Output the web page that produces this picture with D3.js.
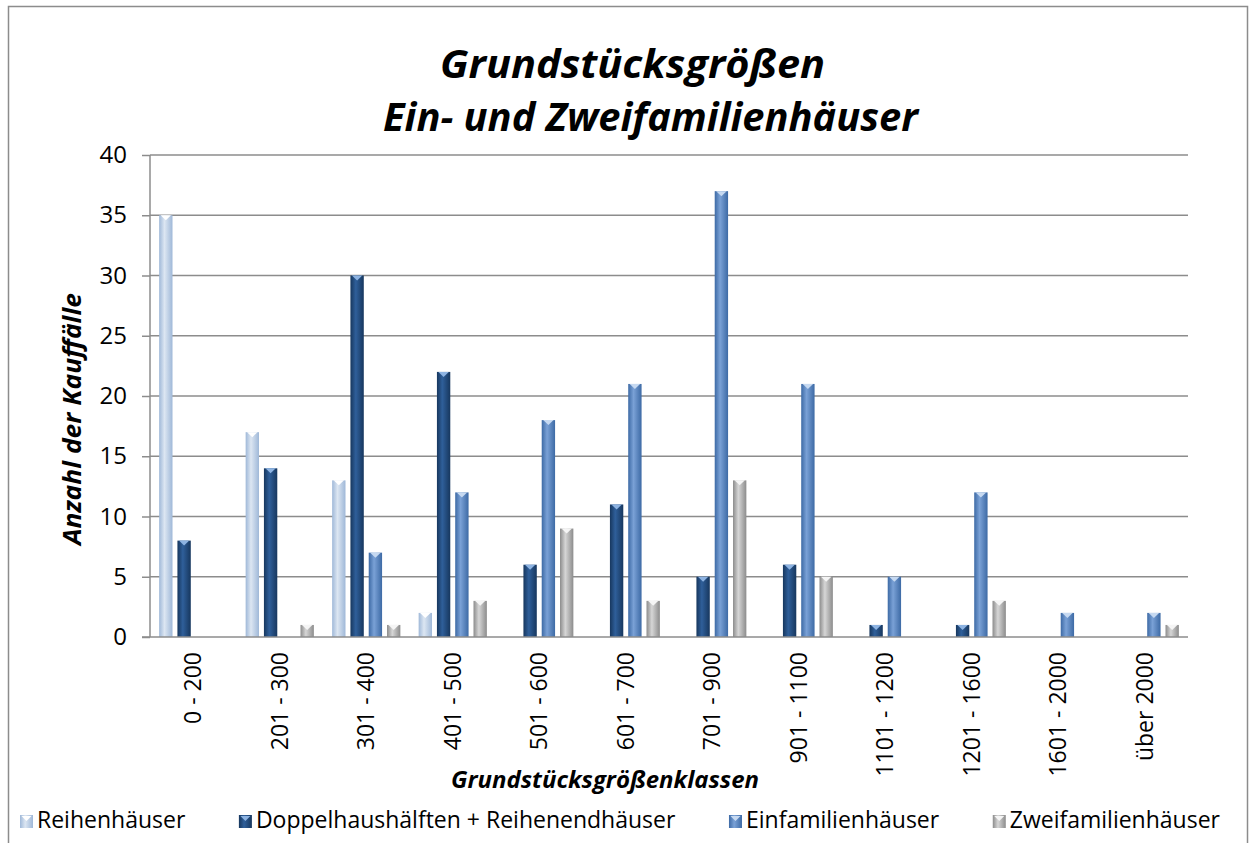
<!DOCTYPE html>
<html>
<head>
<meta charset="utf-8">
<script src="https://cdn.jsdelivr.net/npm/d3@7"></script>
<style>
  body { margin: 0; background: #fff; }
  text { font-family: 'Open Sans', sans-serif; fill: #000; }
</style>
</head>
<body>
<div id="chart"></div>
<script>
// categories (Grundstücksgrößenklassen)
const categories = ['0 - 200', '201 - 300', '301 - 400', '401 - 500', '501 - 600', '601 - 700',
  '701 - 900', '901 - 1100', '1101 - 1200', '1201 - 1600', '1601 - 2000', 'über 2000'];

const seriesNames = ['Reihenhäuser', 'Doppelhaushälften + Reihenendhäuser', 'Einfamilienhäuser', 'Zweifamilienhäuser'];

const reihen = [35, 17, 13, 2, 0, 0, 0, 0, 0, 0, 0, 0];
const doppel = [8, 14, 30, 22, 6, 11, 5, 6, 1, 1, 0, 0];
const einfam = [0, 0, 7, 12, 18, 21, 37, 21, 5, 12, 2, 2];
const zweifam = [0, 1, 1, 3, 9, 3, 13, 5, 0, 3, 0, 1];

const yTicks = [0, 5, 10, 15, 20, 25, 30, 35, 40];

const width = 1255, height = 843;
const plot = {left: 150, right: 1188, top: 155, bottom: 637};

// colours per series: edge, middle, cap
const styles = [
  {edge: '#9fb8d8', mid: '#dce6f2', cap: '#ffffff'},
  {edge: '#17375e', mid: '#2f5f9a', cap: '#8db3e2'},
  {edge: '#3d6aa5', mid: '#7aa1d6', cap: '#c6d9f1'},
  {edge: '#8c8c8c', mid: '#d6d6d6', cap: '#f5f5f5'}
];

const values = [reihen, doppel, einfam, zweifam];
const rows = [];
categories.forEach((c, i) => {
  values.forEach((v, s) => {
    if (v[i] > 0) rows.push({cat: c, s: s, value: v[i]});
  });
});

const svg = d3.select('#chart').append('svg')
  .attr('width', width)
  .attr('height', height);

const defs = svg.append('defs');
styles.forEach((st, i) => {
  const g = defs.append('linearGradient').attr('id', 'grad' + i)
    .attr('x1', 0).attr('x2', 1).attr('y1', 0).attr('y2', 0);
  g.append('stop').attr('offset', '0%').attr('stop-color', st.edge);
  g.append('stop').attr('offset', '40%').attr('stop-color', st.mid);
  g.append('stop').attr('offset', '100%').attr('stop-color', st.edge);
});

// chart frame
svg.append('rect')
  .attr('x', 8.5).attr('y', 6.5)
  .attr('width', 1239).attr('height', 860)
  .attr('fill', 'none')
  .attr('stroke', '#8c8c8c')
  .attr('stroke-width', 1.5);

const x0 = d3.scaleBand().domain(categories).range([plot.left, plot.right]);
const x1 = d3.scaleBand().domain(d3.range(4)).range([0, x0.bandwidth()])
  .paddingInner(0.27).paddingOuter(0.5);
const y = d3.scaleLinear().domain([0, 40]).range([plot.bottom, plot.top]);

// gridlines + y axis
const yAxis = svg.append('g')
  .attr('transform', 'translate(' + plot.left + ',0)')
  .call(d3.axisLeft(y).tickValues(yTicks).tickSize(8).tickPadding(15)
    .tickSizeOuter(0));
yAxis.select('.domain').remove();
yAxis.selectAll('.tick line').attr('stroke', '#8c8c8c').attr('stroke-width', 1.5);
yAxis.selectAll('.tick text').style('font-size', '24px').attr('fill', '#000');

svg.append('g').selectAll('line')
  .data(yTicks.filter(d => d > 0))
  .enter().append('line')
  .attr('x1', plot.left).attr('x2', plot.right)
  .attr('y1', d => y(d)).attr('y2', d => y(d))
  .attr('stroke', '#8c8c8c').attr('stroke-width', 1.5);

svg.append('line')
  .attr('x1', plot.left).attr('x2', plot.left)
  .attr('y1', plot.top).attr('y2', plot.bottom)
  .attr('stroke', '#8c8c8c').attr('stroke-width', 1.5);

// bars
const bars = svg.append('g').selectAll('g.bar')
  .data(rows)
  .enter().append('g')
  .attr('class', 'bar');

bars.append('rect')
  .attr('x', d => x0(d.cat) + x1(d.s))
  .attr('y', d => y(d.value))
  .attr('width', x1.bandwidth())
  .attr('height', d => y(0) - y(d.value))
  .attr('fill', d => 'url(#grad' + d.s + ')');

bars.append('path')
  .attr('d', d => {
    const bx = x0(d.cat) + x1(d.s), by = y(d.value), w = x1.bandwidth();
    const h = Math.min(5, y(0) - by);
    return 'M' + (bx + 1.5) + ',' + by + 'L' + (bx + w - 1.5) + ',' + by +
      'L' + (bx + w / 2) + ',' + (by + h) + 'Z';
  })
  .attr('fill', d => styles[d.s].cap);

// x axis line
svg.append('line')
  .attr('x1', plot.left - 8).attr('x2', plot.right)
  .attr('y1', plot.bottom).attr('y2', plot.bottom)
  .attr('stroke', '#8c8c8c').attr('stroke-width', 1.5);

// category labels
const xAxis = svg.append('g')
  .attr('transform', 'translate(0,' + plot.bottom + ')')
  .call(d3.axisBottom(x0).tickSize(0).tickPadding(0));
xAxis.select('.domain').remove();
xAxis.selectAll('.tick text')
  .style('font-size', '23px')
  .attr('fill', '#000')
  .attr('text-anchor', 'end')
  .attr('transform', 'rotate(-90)')
  .attr('x', -15)
  .attr('y', 0)
  .attr('dy', '0.35em');

// titles
svg.append('text')
  .attr('x', 440).attr('y', 78)
  .attr('textLength', 385).attr('lengthAdjust', 'spacingAndGlyphs')
  .style('font-size', '40px').style('font-weight', 'bold').style('font-style', 'italic')
  .text('Grundstücksgrößen');
svg.append('text')
  .attr('x', 383).attr('y', 131)
  .attr('textLength', 535).attr('lengthAdjust', 'spacingAndGlyphs')
  .style('font-size', '40px').style('font-weight', 'bold').style('font-style', 'italic')
  .text('Ein- und Zweifamilienhäuser');

svg.append('text')
  .attr('transform', 'translate(81,419) rotate(-90)')
  .attr('text-anchor', 'middle')
  .attr('textLength', 252).attr('lengthAdjust', 'spacingAndGlyphs')
  .style('font-size', '25px').style('font-weight', 'bold').style('font-style', 'italic')
  .text('Anzahl der Kauffälle');

svg.append('text')
  .attr('x', 451).attr('y', 788)
  .attr('textLength', 308).attr('lengthAdjust', 'spacingAndGlyphs')
  .style('font-size', '24px').style('font-weight', 'bold').style('font-style', 'italic')
  .text('Grundstücksgrößenklassen');

// legend, laid out from measured text widths between x=20 and x=1220
const legend = svg.append('g');
const items = seriesNames.map((name, i) => {
  const g = legend.append('g');
  g.append('rect')
    .attr('y', -13)
    .attr('width', 13).attr('height', 13)
    .attr('fill', 'url(#grad' + i + ')');
  g.append('path')
    .attr('d', 'M1.5,-12L11.5,-12L6.5,-7Z')
    .attr('fill', styles[i].cap);
  const t = g.append('text')
    .attr('x', 17).attr('y', 0)
    .style('font-size', '23px')
    .text(name);
  return {g: g, w: 17 + t.node().getComputedTextLength()};
});
const total = d3.sum(items, d => d.w);
const gap = (1220 - 20 - total) / (items.length - 1);
let lx = 20;
items.forEach(it => {
  it.g.attr('transform', 'translate(' + lx + ',828)');
  lx += it.w + gap;
});
</script>
</body>
</html>
